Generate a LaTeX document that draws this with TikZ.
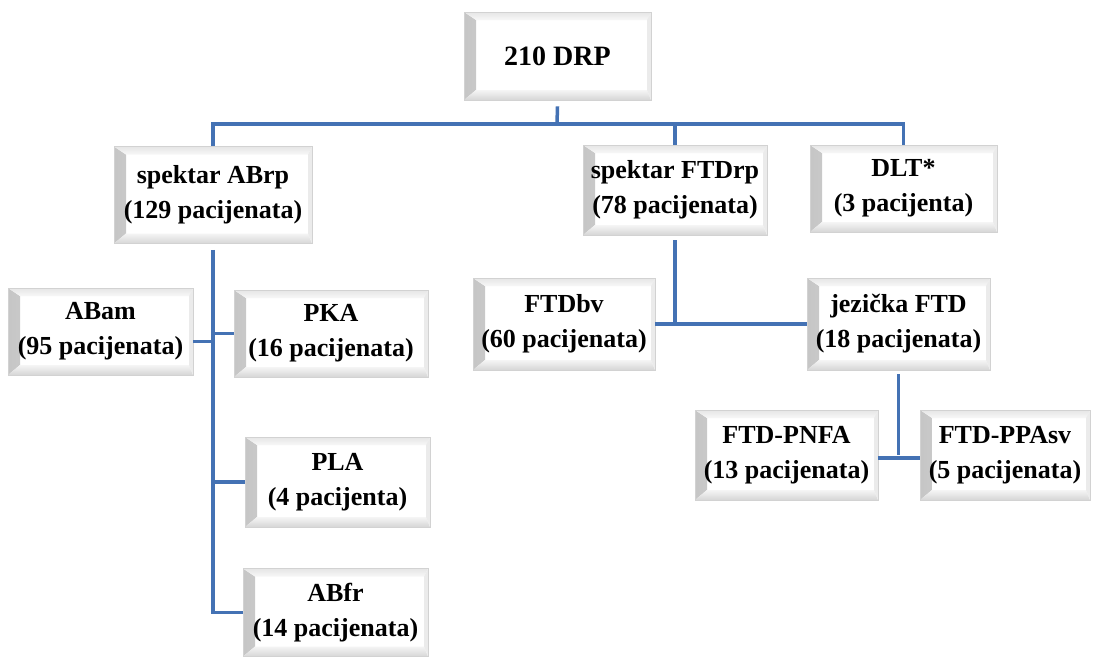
\documentclass[tikz,border=0pt]{standalone}
\usepackage{fontspec}
\setmainfont{Liberation Serif}
\usetikzlibrary{calc}
\definecolor{conn}{RGB}{68,114,180}
\tikzset{
  bx/.style={rectangle, draw=gray!35, line width=0.8pt, fill=white,
    font=\bfseries\fontsize{26}{35}\selectfont, align=center, inner sep=0pt,
    path picture={
      \shade[left color=gray!45, right color=gray!8]
        (path picture bounding box.north west) -- (path picture bounding box.south west)
        -- ([xshift=12pt,yshift=10pt]path picture bounding box.south west)
        -- ([xshift=12pt,yshift=-8pt]path picture bounding box.north west) -- cycle;
      \shade[top color=gray!20, bottom color=gray!6]
        (path picture bounding box.north west) -- (path picture bounding box.north east)
        -- ([xshift=-4pt,yshift=-8pt]path picture bounding box.north east)
        -- ([xshift=12pt,yshift=-8pt]path picture bounding box.north west) -- cycle;
      \shade[bottom color=gray!32, top color=gray!8]
        (path picture bounding box.south west) -- (path picture bounding box.south east)
        -- ([xshift=-4pt,yshift=10pt]path picture bounding box.south east)
        -- ([xshift=12pt,yshift=10pt]path picture bounding box.south west) -- cycle;
      \fill[gray!16]
        (path picture bounding box.north east) -- (path picture bounding box.south east)
        -- ([xshift=-4pt,yshift=10pt]path picture bounding box.south east)
        -- ([xshift=-4pt,yshift=-8pt]path picture bounding box.north east) -- cycle;
    }},
  link/.style={draw=conn, line width=3.5pt}
}
\begin{document}
\begin{tikzpicture}[x=1pt,y=-1pt]
\useasboundingbox (0,0) rectangle (1095,656);
\node[bx, minimum width=187pt, minimum height=88pt, font=\bfseries\fontsize{28}{35}\selectfont] (drp) at (557.5,56) {210 DRP};
\node[bx, minimum width=198pt, minimum height=97pt] (abrp) at (213,195) {spektar ABrp\\(129 pacijenata)};
\node[bx, minimum width=184pt, minimum height=90pt] (ftdrp) at (675,190) {spektar FTDrp\\(78 pacijenata)};
\node[bx, minimum width=187pt, minimum height=87pt] (dlt) at (903.5,188.5) {DLT*\\(3 pacijenta)};
\node[bx, minimum width=185pt, minimum height=87pt] (abam) at (100.5,331.5) {ABam\\(95 pacijenata)};
\node[bx, minimum width=194pt, minimum height=87pt] (pka) at (331,333.5) {PKA\\(16 pacijenata)};
\node[bx, minimum width=185pt, minimum height=90pt] (pla) at (337.5,482) {PLA\\(4 pacijenta)};
\node[bx, minimum width=185pt, minimum height=88pt] (abfr) at (335.5,612.5) {ABfr\\(14 pacijenata)};
\node[bx, minimum width=182pt, minimum height=92pt] (ftdbv) at (564,324) {FTDbv\\(60 pacijenata)};
\node[bx, minimum width=183pt, minimum height=92pt] (jez) at (898.5,324) {jezička FTD\\(18 pacijenata)};
\node[bx, minimum width=183pt, minimum height=90pt] (pnfa) at (786.5,455) {FTD-PNFA\\(13 pacijenata)};
\node[bx, minimum width=170pt, minimum height=90pt] (ppasv) at (1005,455) {FTD-PPAsv\\(5 pacijenata)};
\coordinate (bus) at (557,124);
\draw[link] ([yshift=-6pt]drp.south) -- (bus);
\draw[link] (abrp.north) |- (bus) -| (dlt.north);
\draw[link] (ftdrp.north) -- (ftdrp.north |- bus);
\draw[link] ([yshift=-6pt]abrp.south) -- (abrp.south |- abfr.west) -- (abfr.west);
\draw[link] ([yshift=-10pt]abam.east) -- ([yshift=-10pt]abam.east -| abrp.south);
\draw[link] (pka.west) -- (pka.west -| abrp.south);
\draw[link] (pla.west) -- (pla.west -| abrp.south);
\draw[link] ([yshift=-5pt]ftdrp.south) -- (ftdrp.south |- ftdbv.east);
\draw[link] (ftdbv.east) -- (jez.west);
\draw[link] ([yshift=-4pt]jez.south) -- (jez.south |- pnfa.east);
\draw[link] ([yshift=-3pt]pnfa.east) -- ([yshift=-3pt]ppasv.west);
\end{tikzpicture}
\end{document}
